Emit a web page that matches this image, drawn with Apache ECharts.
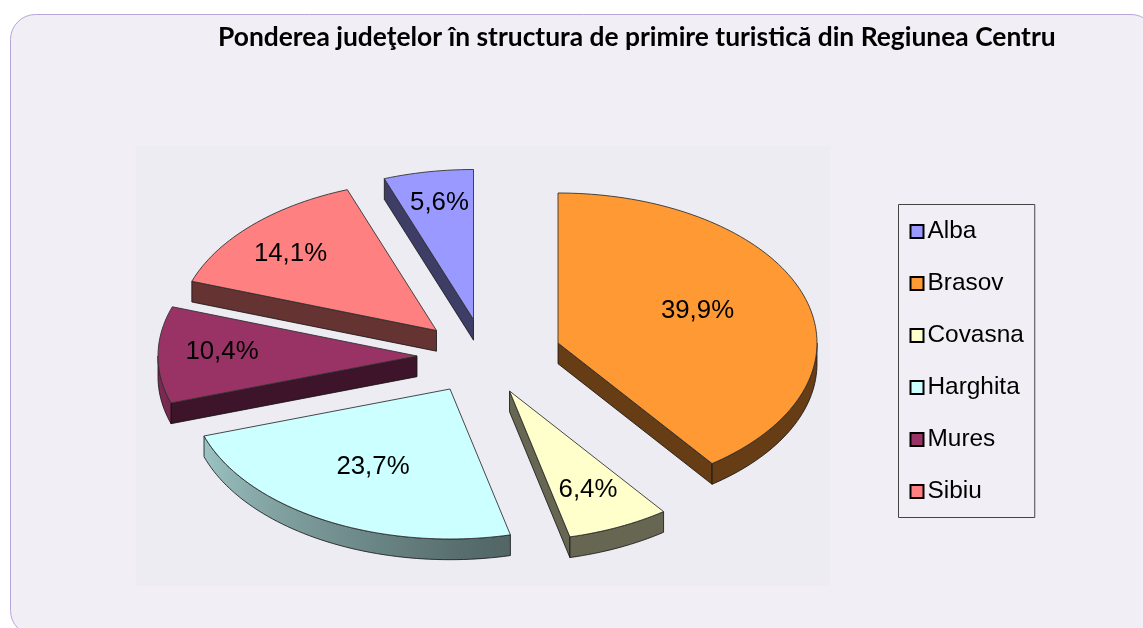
<!DOCTYPE html>
<html><head><meta charset="utf-8">
<style>html,body{margin:0;padding:0;background:#fff}#c{width:1143px;height:628px}</style>
<script src="https://cdn.jsdelivr.net/npm/echarts@6/dist/echarts.min.js"></script>
</head><body><div id="c"></div>
<script>
const categories = ['Alba','Brasov','Covasna','Harghita','Mures','Sibiu'];
const shares = [5.6,39.9,6.4,23.7,10.4,14.1];
const shareLabels = ['5,6%','39,9%','6,4%','23,7%','10,4%','14,1%'];
const colors = ['#9999ff','#ff9933','#ffffcc','#ccffff','#993366','#ff8080'];
const titleText = 'Ponderea judeţelor în structura de primire turistică din Regiunea Centru';

// pie projection
const center = [488,356], rx = 259, ry = 150, depth = 20.7;
const explode = [[-14.5,-36.5],[70,-13],[21.5,35],[-38,33],[-71,0],[-51.5,-25.5]];
const labelShift = [[-34,-117],[139.5,-32],[78.5,99],[-77,78],[-195,-4],[-146,-77]];

const total = shares.reduce((a,b)=>a+b,0);
const starts = []; { let s = -shares[0]/total*360; shares.forEach(v=>{ starts.push(s); s += v/total*360; }); }

function shade(hex,f){
  const n=parseInt(hex.slice(1),16);
  return 'rgb('+[(n>>16)&255,(n>>8)&255,n&255].map(c=>Math.round(c*f)).join(',')+')';
}
function light(t){ t=((t%360)+360)%360; if(t<=170) return .4; return .4+.45*Math.min(100,t-170)/100; }

function renderSlice(i){
  return function(params,api){
    const a0 = starts[i], a1 = a0 + api.value(0)/total*360;
    const ax = center[0]+explode[i][0], ay = center[1]+explode[i][1];
    const pt = t=>{const r=t*Math.PI/180; return [ax+rx*Math.sin(r), ay-ry*Math.cos(r)];};
    const arc=(b0,b1)=>{const n=Math.max(2,Math.ceil((b1-b0)/1.5)),o=[];for(let k=0;k<=n;k++)o.push(pt(b0+(b1-b0)*k/n));return o;};
    const down=p=>[p[0],p[1]+depth];
    const line={stroke:'#111',lineWidth:0.8};
    const children=[];
    const side=shade(colors[i],.4);
    const wall=(p,q)=>children.push({type:'polygon',shape:{points:[p,q,down(q),down(p)]},style:Object.assign({fill:side},line)});
    const P0=pt(a0),P1=pt(a1);
    if(P0[0]<ax-.01) wall([ax,ay],P0);
    if(P1[0]>ax+.01) wall([ax,ay],P1);
    const lo=Math.max(a0,90), hi=Math.min(a1,270);
    const lo2=Math.max(a0+360,90), hi2=Math.min(a1+360,270);
    const b0=hi>lo?lo:lo2, b1=hi>lo?hi:hi2;
    if(b1>b0){
      const top=arc(b0,b1), pts=top.concat(top.slice().reverse().map(down));
      const xs=top.map(p=>p[0]), xMin=Math.min(...xs), xMax=Math.max(...xs);
      const n=12,stops=[];
      for(let k=0;k<=n;k++){const t=b0+(b1-b0)*k/n; stops.push({offset:xMax>xMin?(pt(t)[0]-xMin)/(xMax-xMin):0,color:shade(colors[i],light(t))});}
      stops.sort((a,b)=>a.offset-b.offset);
      children.push({type:'polygon',shape:{points:pts},style:Object.assign({fill:new echarts.graphic.LinearGradient(0,0,1,0,stops)},line)});
    }
    children.push({type:'polygon',shape:{points:[[ax,ay]].concat(arc(a0,a1))},style:{fill:colors[i],stroke:'#333',lineWidth:0.9}});
    children.push({type:'text',style:{text:shareLabels[i],x:ax+labelShift[i][0],y:ay+labelShift[i][1],align:'center',verticalAlign:'middle',fill:'#000',font:'25.8px "Liberation Sans"'}});
    return {type:'group',children};
  };
}

const chart=echarts.init(document.getElementById('c'),null,{renderer:'canvas'});
chart.setOption({
  animation:false,
  backgroundColor:'#fff',
  title:{text:titleText,left:218,top:24,padding:0,textStyle:{fontFamily:'Lato',fontWeight:'bold',fontSize:26.4,color:'#000'}},
  graphic:[
    {type:'rect',z:-10,silent:true,shape:{x:10.5,y:14.5,width:1145.5,height:621,r:25},style:{fill:'#f1eff5',stroke:'#b9a5d8',lineWidth:1}},
    {type:'rect',z:-9,silent:true,shape:{x:136,y:146,width:694,height:440},style:{fill:'#eeecf3'}}
  ],
  legend:{
    orient:'vertical',left:898.5,top:204.5,
    padding:[15,11,14,11],itemGap:28,
    itemWidth:13,itemHeight:13,icon:'rect',selectedMode:false,
    borderColor:'#444',borderWidth:1,
    itemStyle:{borderColor:'#000',borderWidth:2},
    textStyle:{fontFamily:'Liberation Sans',fontSize:24.4,color:'#000',padding:[0,0,0,-1]},
    data:categories
  },
  series:categories.map((name,i)=>({
    type:'custom',name,coordinateSystem:'none',silent:true,
    itemStyle:{color:colors[i]},
    renderItem:renderSlice(i),
    data:[[shares[i]]]
  }))
});
</script></body></html>
